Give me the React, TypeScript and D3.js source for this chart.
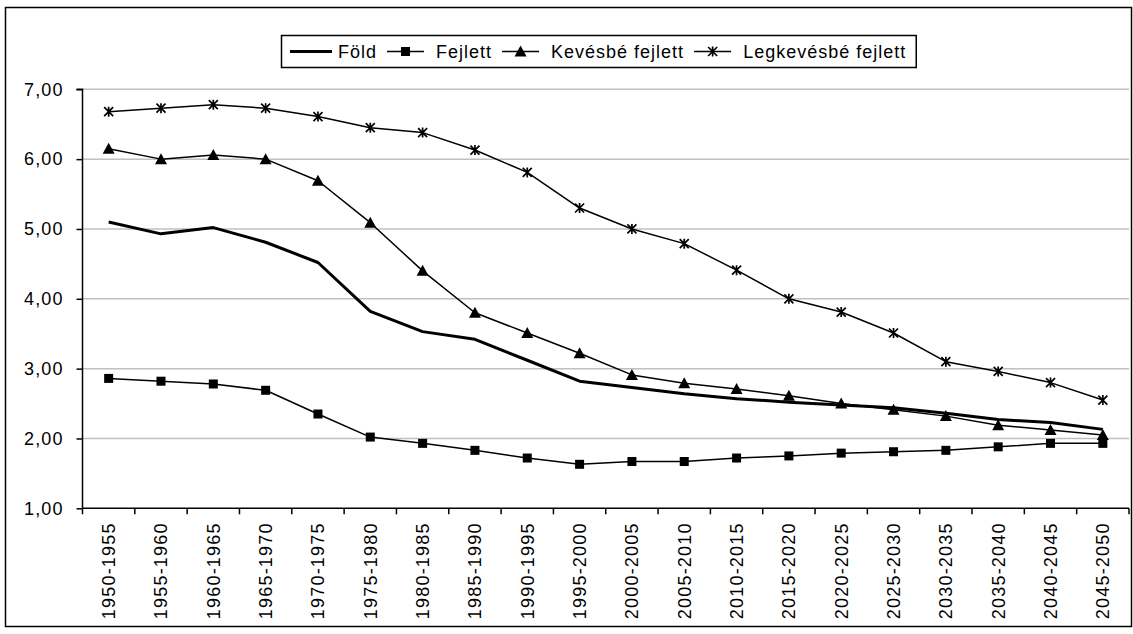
import React, { useEffect, useRef } from "react";
import * as d3 from "d3";

const categories = [
  "1950-1955", "1955-1960", "1960-1965", "1965-1970", "1970-1975",
  "1975-1980", "1980-1985", "1985-1990", "1990-1995", "1995-2000",
  "2000-2005", "2005-2010", "2010-2015", "2015-2020", "2020-2025",
  "2025-2030", "2030-2035", "2035-2040", "2040-2045", "2045-2050",
];

const fold = [5.10, 4.93, 5.02, 4.81, 4.52, 3.82, 3.53, 3.42, 3.12, 2.82, 2.73, 2.64, 2.57, 2.52, 2.48, 2.44, 2.36, 2.27, 2.23, 2.13];
const fejlett = [2.86, 2.82, 2.78, 2.69, 2.35, 2.02, 1.93, 1.83, 1.72, 1.63, 1.67, 1.67, 1.72, 1.75, 1.79, 1.81, 1.83, 1.88, 1.93, 1.93];
const kevesbe = [6.15, 6.00, 6.06, 6.00, 5.69, 5.09, 4.40, 3.80, 3.51, 3.22, 2.91, 2.79, 2.71, 2.61, 2.50, 2.41, 2.32, 2.19, 2.12, 2.05];
const legkevesbe = [6.68, 6.73, 6.78, 6.73, 6.61, 6.45, 6.38, 6.13, 5.81, 5.30, 5.00, 4.79, 4.41, 4.00, 3.81, 3.51, 3.10, 2.96, 2.80, 2.55];

const yTicks = [1, 2, 3, 4, 5, 6, 7];

const seriesNames = ["Föld", "Fejlett", "Kevésbé fejlett", "Legkevésbé fejlett"];
const seriesValues = [fold, fejlett, kevesbe, legkevesbe];
const seriesMarkers = ["none", "square", "triangle", "star"];
const seriesWidths = [3, 1.5, 1.5, 1.5];

const W = 1133;
const H = 634;
const FONT = "'Liberation Sans', Arial, sans-serif";

function drawMarker(g: any, type: string, x: number, y: number) {
  if (type === "square") {
    g.append("rect").attr("x", x - 4.5).attr("y", y - 4.5).attr("width", 9).attr("height", 9).attr("fill", "#000");
  } else if (type === "triangle") {
    g.append("path")
      .attr("d", `M${x},${y - 6}L${x + 6},${y + 5}L${x - 6},${y + 5}Z`)
      .attr("fill", "#000");
  } else if (type === "star") {
    const s = 4.5;
    g.append("path")
      .attr("d", `M${x - s},${y - s}L${x + s},${y + s}M${x - s},${y + s}L${x + s},${y - s}M${x},${y - s - 0.5}L${x},${y + s + 0.5}`)
      .attr("stroke", "#000").attr("stroke-width", 1.7).attr("fill", "none");
  }
}

export default function App() {
  const ref = useRef<SVGSVGElement>(null);

  useEffect(() => {
    const svg = d3.select(ref.current);
    svg.selectAll("*").remove();

    const left = 82.5, right = 1129, top = 89.3, bottom = 508.3;

    const x = d3.scaleBand<string>().domain(categories).range([left, right]).padding(0);
    const y = d3.scaleLinear().domain([1, 7]).range([bottom, top]);
    const cx = (c: string) => (x(c) as number) + x.bandwidth() / 2;

    // outer frame
    svg.append("rect").attr("x", 5.5).attr("y", 7.5).attr("width", 1126).attr("height", 619)
      .attr("fill", "#fff").attr("stroke", "#000").attr("stroke-width", 1.5);

    // gridlines
    svg.append("g").selectAll("line").data(yTicks.filter((t) => t > 1)).join("line")
      .attr("x1", left).attr("x2", right)
      .attr("y1", (d) => y(d)).attr("y2", (d) => y(d))
      .attr("stroke", "#c0c0c0").attr("stroke-width", 1.5);

    // y axis
    const ya = svg.append("g").attr("transform", `translate(${left},0)`)
      .call(d3.axisLeft(y).tickValues(yTicks).tickSize(6).tickPadding(13)
        .tickFormat((d: any) => d3.format(".2f")(d).replace(".", ",")));
    ya.select(".domain").attr("stroke", "#000").attr("stroke-width", 1.5)
      .attr("d", `M-6,${top}H0V${bottom + 6}`);
    ya.selectAll(".tick line").attr("stroke", "#000").attr("stroke-width", 1.5);
    ya.selectAll(".tick text").attr("font-family", FONT).attr("font-size", 18)
      .attr("letter-spacing", 1.1).attr("fill", "#000");

    // x axis
    const xa = svg.append("g").attr("transform", `translate(0,${bottom})`);
    xa.append("line").attr("x1", left).attr("x2", right).attr("y1", 0).attr("y2", 0)
      .attr("stroke", "#000").attr("stroke-width", 1.5);
    xa.selectAll("line.tk").data(categories).join("line").attr("class", "tk")
      .attr("x1", (d) => (x(d) as number) + x.bandwidth()).attr("x2", (d) => (x(d) as number) + x.bandwidth())
      .attr("y1", 0).attr("y2", 6).attr("stroke", "#000").attr("stroke-width", 1.5);
    xa.selectAll("text").data(categories).join("text")
      .attr("transform", (d) => `translate(${cx(d)},14) rotate(-90)`)
      .attr("text-anchor", "end").attr("dy", "0.36em")
      .attr("font-family", FONT).attr("font-size", 18).attr("letter-spacing", 1.2)
      .attr("fill", "#000").text((d) => d);

    // series
    const line = d3.line<number>().x((_, i) => cx(categories[i])).y((d) => y(d));
    seriesValues.forEach((vals, si) => {
      const g = svg.append("g");
      g.append("path").attr("d", line(vals) as string).attr("fill", "none")
        .attr("stroke", "#000").attr("stroke-width", seriesWidths[si]).attr("stroke-linejoin", "round");
      vals.forEach((v, i) => drawMarker(g, seriesMarkers[si], cx(categories[i]), y(v)));
    });

    // legend
    const lg = svg.append("g");
    const box = lg.append("rect").attr("x", 281.5).attr("y", 35.5).attr("height", 32)
      .attr("fill", "#fff").attr("stroke", "#000").attr("stroke-width", 1.5);
    let cur = 290;
    const ly = 51.5;
    seriesNames.forEach((name, si) => {
      const lineLen = si === 0 ? 42 : 37;
      lg.append("line").attr("x1", cur).attr("x2", cur + lineLen).attr("y1", ly).attr("y2", ly)
        .attr("stroke", "#000").attr("stroke-width", seriesWidths[si]);
      drawMarker(lg, seriesMarkers[si], cur + lineLen / 2, ly);
      cur += lineLen + (si === 0 ? 6 : 12);
      const t = lg.append("text").attr("x", cur).attr("y", ly).attr("dy", "0.36em")
        .attr("font-family", FONT).attr("font-size", 18).attr("letter-spacing", 1)
        .attr("fill", "#000").text(name);
      const len = (t.node() as SVGTextElement).getComputedTextLength();
      cur += len + 10;
    });
    box.attr("width", cur - 281.5);
  }, []);

  return (
    <div style={{ position: "absolute", left: 0, top: 0 }}>
      <svg ref={ref} width={W} height={H} style={{ display: "block", background: "#fff" }} />
    </div>
  );
}
